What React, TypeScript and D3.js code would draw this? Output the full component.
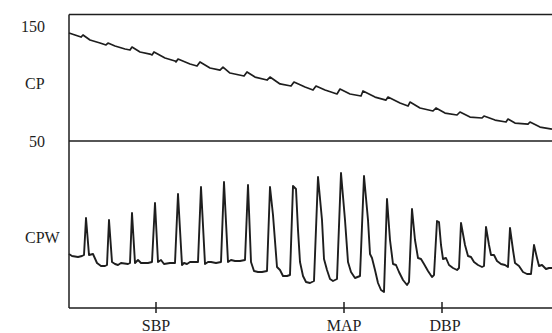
import React, { useRef, useEffect } from 'react';
import * as d3 from 'd3';

// cuff pressure (mmHg) against sample number
const cpSamples = [0, 6, 12, 14, 21, 31, 37, 39, 46, 56, 61, 63, 71, 81, 83, 85, 96, 106, 107, 109, 121, 128, 131, 141, 151, 154, 161, 175, 178, 186, 198, 201, 211, 222, 225, 236, 244, 247, 256, 268, 271, 281, 292, 294, 306, 317, 319, 331, 339, 341, 351, 364, 367, 376, 388, 391, 401, 413, 415, 426, 437, 439, 446, 459, 461, 471, 483];
const cpValues = [143.9, 142.2, 140.4, 142.2, 137.8, 135.2, 133.5, 135.2, 132.6, 130.0, 129.1, 131.7, 127.4, 125.6, 124.8, 127.4, 122.2, 119.6, 118.7, 121.3, 117.0, 115.2, 118.7, 113.5, 111.7, 114.3, 109.1, 106.5, 110.0, 105.6, 103.0, 105.6, 99.6, 97.8, 101.3, 97.0, 94.3, 97.8, 94.3, 90.9, 95.2, 90.9, 89.1, 93.5, 88.2, 85.6, 88.2, 83.0, 80.4, 83.9, 78.7, 76.1, 78.7, 74.3, 72.6, 75.2, 70.8, 70.0, 71.7, 68.2, 66.5, 69.1, 65.6, 64.7, 66.5, 62.1, 60.4];

// cuff pressure waveform (oscillations, a.u.)
const cpwSamples = [0, 3, 9, 13, 15, 17, 20, 24, 28, 32, 36, 38, 40, 43, 46, 49, 52, 59, 61, 63, 66, 69, 72, 79, 83, 86, 89, 92, 95, 101, 106, 109, 113, 115, 118, 121, 129, 132, 136, 139, 142, 147, 152, 155, 159, 162, 166, 171, 176, 179, 182, 185, 189, 193, 198, 201, 204, 208, 211, 214, 218, 221, 224, 227, 229, 231, 234, 237, 241, 245, 249, 253, 255, 258, 261, 264, 268, 272, 276, 279, 282, 286, 291, 295, 299, 301, 303, 306, 309, 312, 315, 318, 321, 324, 327, 330, 334, 338, 340, 343, 346, 349, 352, 355, 359, 363, 365, 368, 370, 372, 374, 377, 380, 384, 388, 390, 392, 396, 399, 402, 405, 409, 413, 415, 417, 420, 422, 425, 428, 432, 436, 439, 441, 444, 446, 450, 454, 458, 462, 465, 468, 470, 473, 477, 480, 483];
const cpwValues = [54, 52, 51, 52, 53, 90, 53, 54, 45, 42, 42, 43, 88, 46, 44, 43, 45, 44, 45, 95, 45, 48, 45, 45, 46, 105, 46, 48, 44, 45, 45, 114, 43, 45, 44, 46, 46, 121, 44, 46, 46, 45, 46, 126, 46, 48, 47, 47, 48, 123, 46, 37, 36, 36, 37, 121, 93, 41, 38, 32, 32, 33, 122, 119, 78, 46, 32, 26, 25, 27, 131, 88, 49, 38, 29, 27, 29, 135, 88, 46, 36, 30, 32, 132, 88, 54, 50, 38, 25, 18, 16, 109, 68, 44, 43, 36, 28, 23, 26, 99, 68, 50, 49, 44, 37, 31, 33, 87, 86, 63, 49, 50, 43, 40, 38, 40, 85, 63, 52, 51, 46, 43, 41, 42, 81, 63, 53, 53, 47, 44, 43, 41, 80, 58, 45, 42, 36, 34, 34, 63, 50, 42, 43, 39, 40, 40];

const yTickValues = [150, 50];
const yTickLabels = ['150', '50'];
const markerSamples = [87, 275, 373];
const markerLabels = ['SBP', 'MAP', 'DBP'];

function App() {
    const ref = useRef<SVGSVGElement>(null);

    useEffect(() => {
        const svg = d3.select(ref.current);
        svg.selectAll('*').remove();
        const ink = '#1e1e1e';
        const font = '"Liberation Serif", "Times New Roman", serif';

        const x = d3.scaleLinear().domain([0, 483]).range([69, 552]);
        const yCP = d3.scaleLinear().domain([50, 150]).range([141, 26]);
        const yW = d3.scaleLinear().domain([0, 167]).range([308, 141]);

        // frame
        const frame = svg.append('g').attr('stroke', ink).attr('stroke-width', 1.5);
        frame.append('line')
            .attr('x1', x(0)).attr('x2', x(0))
            .attr('y1', yCP(160)).attr('y2', yW(0));
        frame.append('line')
            .attr('x1', x(0)).attr('x2', x(483))
            .attr('y1', yCP(160)).attr('y2', yCP(160));
        frame.append('line')
            .attr('x1', x(0)).attr('x2', x(483))
            .attr('y1', yCP(50)).attr('y2', yCP(50));
        frame.append('line')
            .attr('x1', x(0)).attr('x2', x(483))
            .attr('y1', yW(0)).attr('y2', yW(0));

        // bottom markers
        frame.selectAll('.mark')
            .data(markerSamples)
            .enter().append('line')
            .attr('x1', d => x(d)).attr('x2', d => x(d))
            .attr('y1', yW(0) - 6).attr('y2', yW(0) + 5);

        svg.selectAll('.mlabel')
            .data(markerLabels)
            .enter().append('text')
            .attr('x', (d, i) => x(markerSamples[i]) + (i === 2 ? 3 : 0))
            .attr('y', 331)
            .attr('text-anchor', 'middle')
            .style('font-family', font)
            .style('font-size', '16px')
            .attr('fill', ink)
            .text(d => d);

        // left labels
        svg.selectAll('.ylabel')
            .data(yTickLabels)
            .enter().append('text')
            .attr('x', 45)
            .attr('y', (d, i) => yCP(yTickValues[i]))
            .attr('dy', '0.35em')
            .attr('text-anchor', 'end')
            .style('font-family', font)
            .style('font-size', '16px')
            .attr('fill', ink)
            .text(d => d);

        svg.append('text')
            .attr('x', 25).attr('y', yCP(100))
            .attr('dy', '0.35em')
            .style('font-family', font)
            .style('font-size', '16px')
            .attr('fill', ink)
            .text('CP');

        svg.append('text')
            .attr('x', 25).attr('y', yW(71))
            .attr('dy', '0.35em')
            .style('font-family', font)
            .style('font-size', '16px')
            .attr('fill', ink)
            .text('CPW');

        // traces
        const cpLine = d3.line<number>()
            .x((d, i) => x(cpSamples[i]))
            .y(d => yCP(d));
        svg.append('path')
            .datum(cpValues)
            .attr('d', cpLine)
            .attr('fill', 'none')
            .attr('stroke', ink)
            .attr('stroke-width', 1.7)
            .attr('stroke-linejoin', 'round');

        const cpwLine = d3.line<number>()
            .x((d, i) => x(cpwSamples[i]))
            .y(d => yW(d));
        svg.append('path')
            .datum(cpwValues)
            .attr('d', cpwLine)
            .attr('fill', 'none')
            .attr('stroke', ink)
            .attr('stroke-width', 1.9)
            .attr('stroke-linejoin', 'round');
    }, []);

    return (
        <svg ref={ref} width="552" height="333"
            style={{ position: 'absolute', left: 0, top: 0, background: '#fff' }} />
    );
}

export default App;
